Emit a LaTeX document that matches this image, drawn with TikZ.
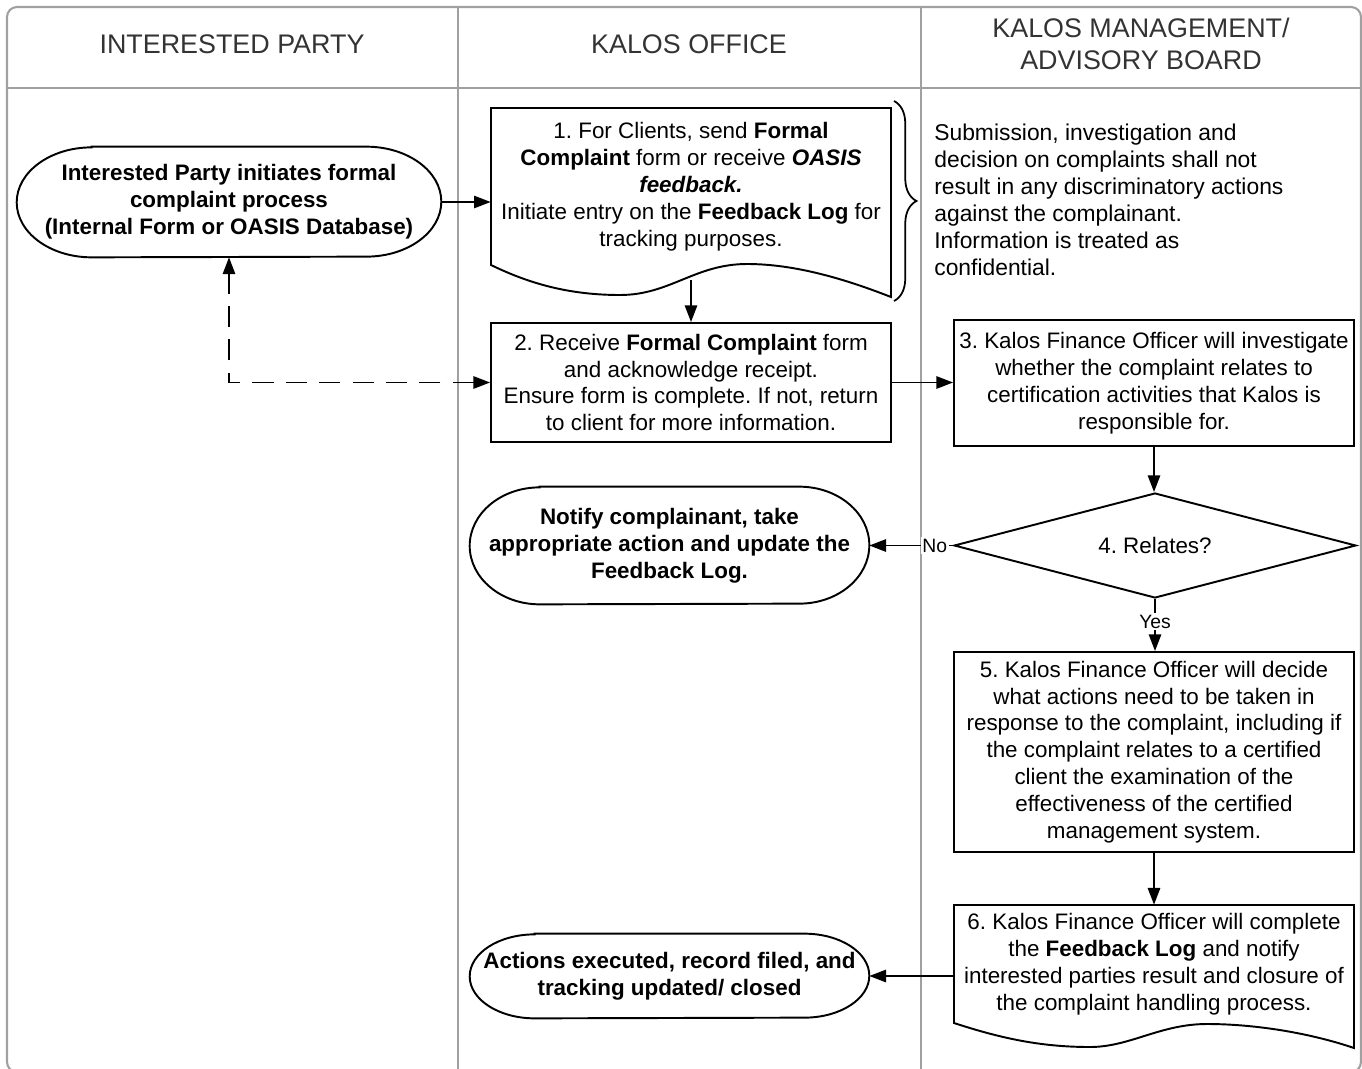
\documentclass[tikz,border=0pt]{standalone}
\usepackage{fontspec}
\setmainfont{Liberation Sans}
\usepackage{xcolor}
\usetikzlibrary{shapes.geometric, arrows.meta, positioning, decorations.pathreplacing}

\definecolor{laneGray}{RGB}{160,160,160}
\definecolor{headText}{RGB}{51,51,51}

\frenchspacing

% terminal outline with elliptic ends: node, x radius, y radius
\newcommand{\termpath}[3]{%
  \draw[outline] ([xshift=#2]#1.north west) -- ([xshift=-#2]#1.north east)
    arc[start angle=90, end angle=-90, x radius=#2, y radius=#3]
    -- ([xshift=#2]#1.south west)
    arc[start angle=270, end angle=90, x radius=#2, y radius=#3] -- cycle;}

\begin{document}
\begin{tikzpicture}[
    x=0.02cm,
    y=-0.02cm,
    font=\fontsize{12.75pt}{15.3pt}\selectfont,
    lane/.style={
        draw=laneGray,
        line width=1.2pt
    },
    header/.style={
        text=headText,
        align=center,
        font=\fontsize{15.3pt}{18pt}\selectfont
    },
    block/.style={
        rectangle,
        draw,
        line width=1.1pt,
        minimum width=8cm,
        align=center,
        inner sep=2pt
    },
    docblock/.style={
        rectangle,
        minimum width=8cm,
        align=center,
        inner sep=2pt
    },
    terminal/.style={
        rectangle,
        align=center,
        inner sep=0pt,
        font=\fontsize{12.75pt}{15.3pt}\selectfont\bfseries
    },
    decision/.style={
        diamond,
        draw,
        line width=1.1pt,
        aspect=4,
        inner sep=0pt,
        minimum width=8.04cm,
        minimum height=2.1cm
    },
    note/.style={
        align=left,
        inner sep=0pt,
        font=\fontsize{13pt}{15.3pt}\selectfont
    },
    outline/.style={
        draw,
        line width=1.1pt
    },
    line/.style={
        draw,
        -{Triangle[length=9.5pt,width=7pt]},
        line width=1.1pt
    },
    dashline/.style={
        draw,
        {Triangle[length=9.5pt,width=7pt]}-{Triangle[length=9.5pt,width=7pt]},
        line width=1.1pt,
        dash pattern=on 12pt off 7pt
    },
    lbl/.style={
        fill=white,
        inner sep=1pt,
        font=\fontsize{11pt}{12pt}\selectfont
    },
    bracestyle/.style={
        draw,
        line width=1pt,
        decorate,
        decoration={brace, amplitude=0.45cm}
    }
]
\useasboundingbox (0,0) rectangle (1362,1068);

% Lanes
\draw[lane, rounded corners=0.2cm] (7,7) rectangle (1361,1072);
\draw[lane] (7,88) -- (1361,88);
\draw[lane] (458,7) -- (458,1072);
\draw[lane] (921,7) -- (921,1072);

\node[header] (hParty) at (232,44) {INTERESTED PARTY};
\node[header] (hOffice) at (689,44) {KALOS OFFICE};
\node[header] (hBoard) at (1141,44) {KALOS MANAGEMENT/\\ADVISORY BOARD};

% Nodes
\node[terminal, minimum width=8.48cm, minimum height=2.2cm] (ip) at (229,202)
    {Interested Party initiates formal\\complaint process\\(Internal Form or OASIS Database)};
\termpath{ip}{1.5cm}{1.1cm}

\node[docblock, minimum height=3.14cm] (doc1) at (691,186.5)
    {1. For Clients, send \textbf{Formal}\\
     \textbf{Complaint} form or receive \textbf{\textit{OASIS}}\\
     \textbf{\textit{feedback.}}\\
     Initiate entry on the \textbf{Feedback Log} for\\
     tracking purposes.};
\draw[outline] (491,265) -- (491,108) -- (891,108) -- (891,297)
    .. controls (845,279) and (795,264) .. (747,264)
    .. controls (695,264) and (670,295) .. (620,295)
    .. controls (570,295) and (530,284) .. (491,265) -- cycle;
\coordinate (doc1wave) at (691,280);

\coordinate (braceTop) at (894,101);
\coordinate (braceBot) at (894,301);
\draw[bracestyle] (braceTop) -- (braceBot);

\node[note, anchor=west] (remark) at (934,200)
    {Submission, investigation and\\
     decision on complaints shall not\\
     result in any discriminatory actions\\
     against the complainant.\\
     Information is treated as\\
     confidential.};

\node[block, minimum height=2.38cm] (box2) at (691,382.5)
    {2. Receive \textbf{Formal Complaint} form\\
     and acknowledge receipt.\\
     Ensure form is complete. If not, return\\
     to client for more information.};

\node[block, minimum height=2.52cm] (box3) at (1154,383)
    {3. Kalos Finance Officer will investigate\\
     whether the complaint relates to\\
     certification activities that Kalos is\\
     responsible for.};

\node[decision] (relates) at (1155,545.5) {4. Relates?};

\node[terminal, minimum width=7.98cm, minimum height=2.34cm] (notify) at (669.5,545.5)
    {Notify complainant, take\\appropriate action and update the\\Feedback Log.};
\termpath{notify}{1.4cm}{1.17cm}

\node[block, minimum height=4cm] (box5) at (1154,752)
    {5. Kalos Finance Officer will decide\\
     what actions need to be taken in\\
     response to the complaint, including if\\
     the complaint relates to a certified\\
     client the examination of the\\
     effectiveness of the certified\\
     management system.};

\node[docblock, minimum height=2.36cm] (doc6) at (1154,964)
    {6. Kalos Finance Officer will complete\\
     the \textbf{Feedback Log} and notify\\
     interested parties result and closure of\\
     the complaint handling process.};
\draw[outline] (954,1023) -- (954,905) -- (1354,905) -- (1354,1048)
    .. controls (1310,1033) and (1255,1024) .. (1207,1024)
    .. controls (1160,1024) and (1130,1047) .. (1090,1047)
    .. controls (1040,1047) and (1000,1038) .. (954,1023) -- cycle;

\node[terminal, minimum width=7.98cm, minimum height=1.68cm] (actions) at (669.5,976)
    {Actions executed, record filed, and\\tracking updated/ closed};
\termpath{actions}{1.3cm}{0.84cm}

% Paths
\path[line] (ip.east) -- (doc1.west |- ip.east);
\path[line] (doc1wave) -- (box2.north);
\path[dashline] (box2.west) -| (ip.south);
\path[line] (box2.east) -- (box2.east -| box3.west);
\path[line] (box3.south) -- (box3.south |- relates.north);
\path[line] (relates.west) -- node[lbl, pos=0.22] {No} (notify.east);
\path[line] (relates.south) -- node[lbl, pos=0.44] {Yes} (relates.south |- box5.north);
\path[line] (box5.south) -- (doc6.north);
\path[line] (doc6.west |- actions.east) -- (actions.east);

\end{tikzpicture}
\end{document}
